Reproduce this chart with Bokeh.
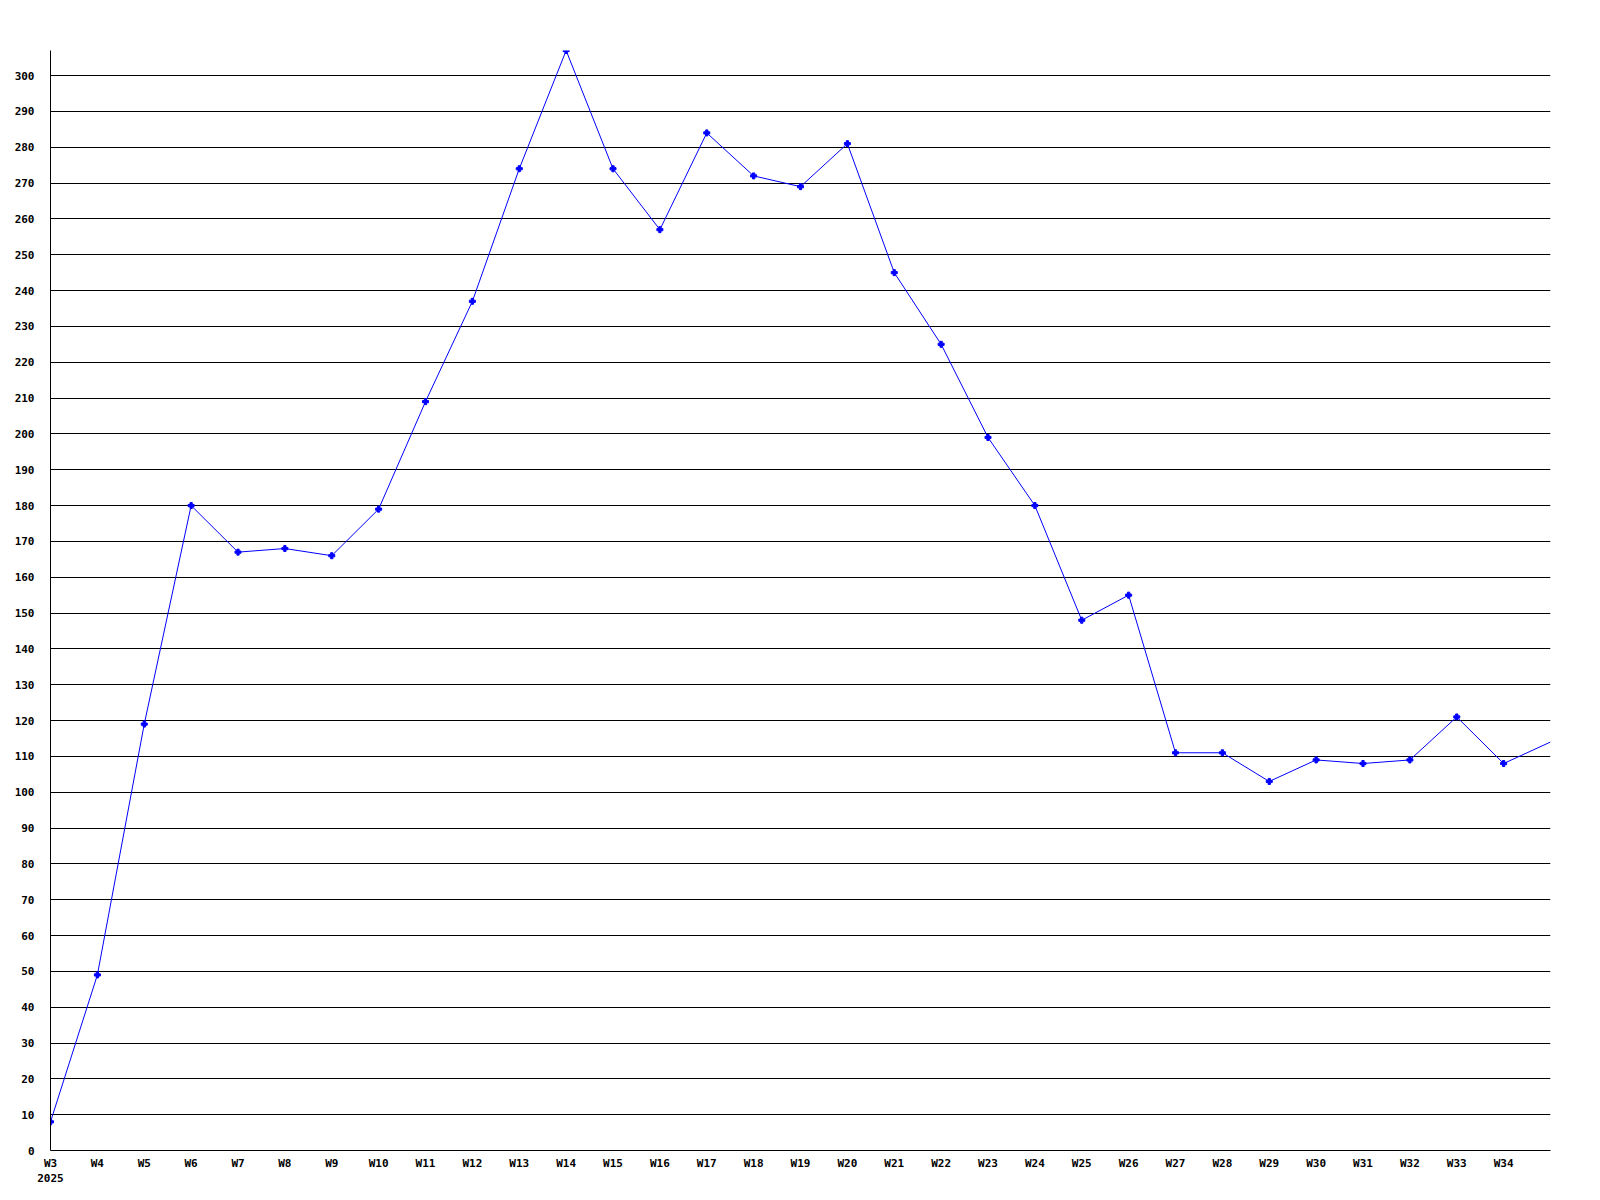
from bokeh.plotting import figure
from bokeh.models import Range1d, FixedTicker
from bokeh.embed import file_html
from bokeh.resources import INLINE

weeks = ["W3", "W4", "W5", "W6", "W7", "W8", "W9", "W10", "W11", "W12", "W13",
         "W14", "W15", "W16", "W17", "W18", "W19", "W20", "W21", "W22", "W23",
         "W24", "W25", "W26", "W27", "W28", "W29", "W30", "W31", "W32", "W33",
         "W34", "W35"]
values = [8, 49, 119, 180, 167, 168, 166, 179, 209, 237, 274,
          307, 274, 257, 284, 272, 269, 281, 245, 225, 199,
          180, 148, 155, 111, 111, 103, 109, 108, 109, 121,
          108, 114]
year_label = "2025"
y_ticks = list(range(0, 301, 10))

xs = list(range(len(weeks)))

p = figure(frame_width=1500, frame_height=1100, output_backend="svg",
           toolbar_location=None, min_border_left=50, min_border_top=50,
           min_border_right=40, min_border_bottom=40,
           x_range=Range1d(0, len(weeks) - 1), y_range=Range1d(0, max(values)))
p.outline_line_color = None
p.background_fill_color = "white"
p.border_fill_color = "white"

font = "DejaVu Sans Mono"
for ax in (p.xaxis[0], p.yaxis[0]):
    ax.axis_line_color = "black"
    ax.axis_line_width = 1
    ax.major_tick_line_color = None
    ax.minor_tick_line_color = None
    ax.major_label_text_font = font
    ax.major_label_text_font_style = "bold"
    ax.major_label_text_font_size = "11px"
    ax.major_label_text_color = "black"

p.yaxis.ticker = FixedTicker(ticks=y_ticks)
p.yaxis.major_label_standoff = 10

shown = xs[:-1]
p.xaxis.ticker = FixedTicker(ticks=shown)
overrides = {i: weeks[i] for i in shown}
overrides[0] = weeks[0] + "\n" + year_label
p.xaxis.major_label_overrides = overrides
p.xaxis.major_label_standoff = 0

p.xgrid.grid_line_color = None
p.ygrid.ticker = FixedTicker(ticks=y_ticks)
p.ygrid.grid_line_color = "black"
p.ygrid.grid_line_width = 1
p.ygrid.grid_line_alpha = 1.0

p.line(xs, values, line_color="#0000ff", line_width=1)
p.scatter(xs[:-1], values[:-1], marker="plus", size=6, color="#0000ff")

open("out.html", "w").write(file_html(p, INLINE))
